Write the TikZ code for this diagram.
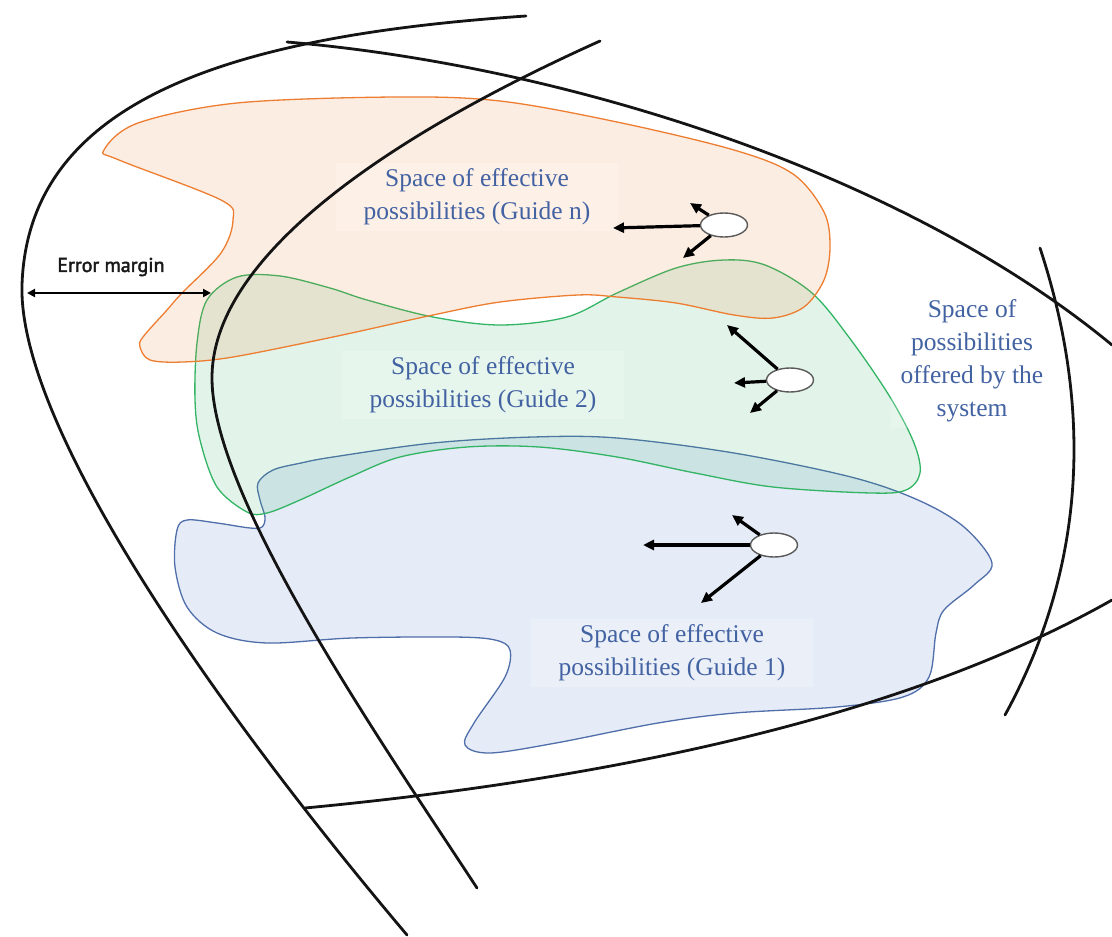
\documentclass[tikz,border=0pt]{standalone}
\usepackage{fontspec}
\setmainfont{Liberation Serif}
\newfontfamily\labelsans[FakeBold=2.2]{PT Sans}
\usetikzlibrary{arrows.meta,shapes.geometric}
\definecolor{txtblue}{RGB}{66,98,162}
\definecolor{orangeline}{RGB}{237,125,49}
\definecolor{greenline}{RGB}{50,180,100}
\definecolor{blueline}{RGB}{80,110,170}
\definecolor{bluefill}{RGB}{68,114,196}
\definecolor{ellgray}{RGB}{90,90,90}
\begin{document}
\begin{tikzpicture}[x=1pt,y=-1pt,
  bound/.style={line width=2.8pt,black!92,line cap=round},
  blobline/.style={line width=1.3pt,fill opacity=0.14},
  robot/.style={ellipse,draw=ellgray,fill=white,line width=1.4pt,minimum width=47pt,minimum height=24pt,inner sep=0pt},
  move/.style={line width=3.2pt,-{Triangle[length=11pt,width=10pt]}},
  guide/.style={text=txtblue,font=\fontsize{25.5}{33}\selectfont,align=center,fill=white,fill opacity=0.2,text opacity=1,inner xsep=28pt,inner ysep=6pt},
  margin/.style={font=\labelsans\fontsize{20}{24}\selectfont,text=black!90,fill=white,fill opacity=0.4,text opacity=1,inner xsep=16pt,inner ysep=6pt},
  span/.style={line width=2pt,{Triangle[length=8pt,width=8pt]}-{Triangle[length=8pt,width=8pt]}}
]
\useasboundingbox (0,0) rectangle (1112,937);

% blobs
\filldraw[blobline,draw=blueline,fill=bluefill] plot[smooth cycle,tension=0.55] coordinates {(258,483) (273,470) (301,463) (333,457) (433,443) (533,437) (617,438) (734,453) (851,477) (918,500) (964,527) (992,563) (974,585) (944,610) (936,633) (929,677) (903,697) (837,707) (735,713) (658,723) (556,743) (490,753) (465,745) (474,723) (505,677) (510,650) (495,640) (454,637) (352,638) (267,643) (217,633) (187,607) (175,567) (177,530) (187,520) (217,523) (250,528) (262,527) (265,517) (260,500)};

\filldraw[blobline,draw=greenline,fill=greenline] plot[smooth cycle,tension=0.55] coordinates {(237,277) (280,276) (330,288) (367,300) (433,317) (500,325) (567,317) (617,293) (676,268) (724,260) (765,265) (812,293) (851,340) (890,397) (914,443) (920,473) (906,490) (871,493) (773,487) (695,473) (617,457) (539,447) (467,447) (400,457) (350,477) (300,500) (267,513) (247,512) (217,487) (200,440) (195,400) (197,343) (207,300)};

\filldraw[blobline,draw=orangeline,fill=orangeline] plot[smooth cycle,tension=0.55] coordinates {(104,150) (138,123) (237,103) (395,97) (500,101) (617,122) (734,150) (793,174) (824,212) (830,247) (824,280) (804,307) (773,318) (734,315) (676,303) (617,297) (578,295) (500,302) (433,315) (333,337) (233,357) (183,362) (150,360) (140,347) (143,337) (167,310) (182,293) (221,253) (233,220) (221,200) (119,160)};

% labels
\node[guide] (gn) at (477,197) {Space of effective\\possibilities (Guide n)};
\node[guide] (g2) at (483,385) {Space of effective\\possibilities (Guide 2)};
\node[guide] (g1) at (672,653) {Space of effective\\possibilities (Guide 1)};
\node[guide,inner xsep=10pt] (sys) at (972,361) {Space of\\possibilities\\offered by the\\system};
\node[margin] (em) at (111,267) {Error margin};

% boundaries
\draw[bound] (526,16) .. controls (230,36) and (28,100) .. (22,285) .. controls (18,420) and (200,690) .. (407,935);
\draw[bound] (287,42) .. controls (560,65) and (900,170) .. (1112,345);
\draw[bound] (305,808) .. controls (600,780) and (900,720) .. (1112,600);
\draw[bound] (600,41) .. controls (380,140) and (210,260) .. (212,380) .. controls (214,500) and (380,740) .. (477,888);
\draw[bound] (1040,248) .. controls (1090,400) and (1090,560) .. (1005,715);

% error margin arrow
\coordinate (emL) at (27,293);
\coordinate (emR) at (211,293);
\draw[span] (emL) -- (emR);

% robots
\node[robot] (rn) at (724,225) {};
\coordinate (rnl) at (613,228);
\coordinate (rnu) at (690,203);
\coordinate (rnd) at (683,258);
\draw[move] (rn) -- (rnl);
\draw[move] (rn) -- (rnu);
\draw[move] (rn) -- (rnd);

\node[robot] (r2) at (790,380) {};
\coordinate (r2u) at (727,325);
\coordinate (r2l) at (734,383);
\coordinate (r2d) at (750,413);
\draw[move] (r2) -- (r2u);
\draw[move] (r2) -- (r2l);
\draw[move] (r2) -- (r2d);

\node[robot] (r1) at (774,545) {};
\coordinate (r1l) at (643,545);
\coordinate (r1u) at (732,515);
\coordinate (r1d) at (701,603);
\draw[move] (r1) -- (r1l);
\draw[move] (r1) -- (r1u);
\draw[move] (r1) -- (r1d);
\end{tikzpicture}
\end{document}
